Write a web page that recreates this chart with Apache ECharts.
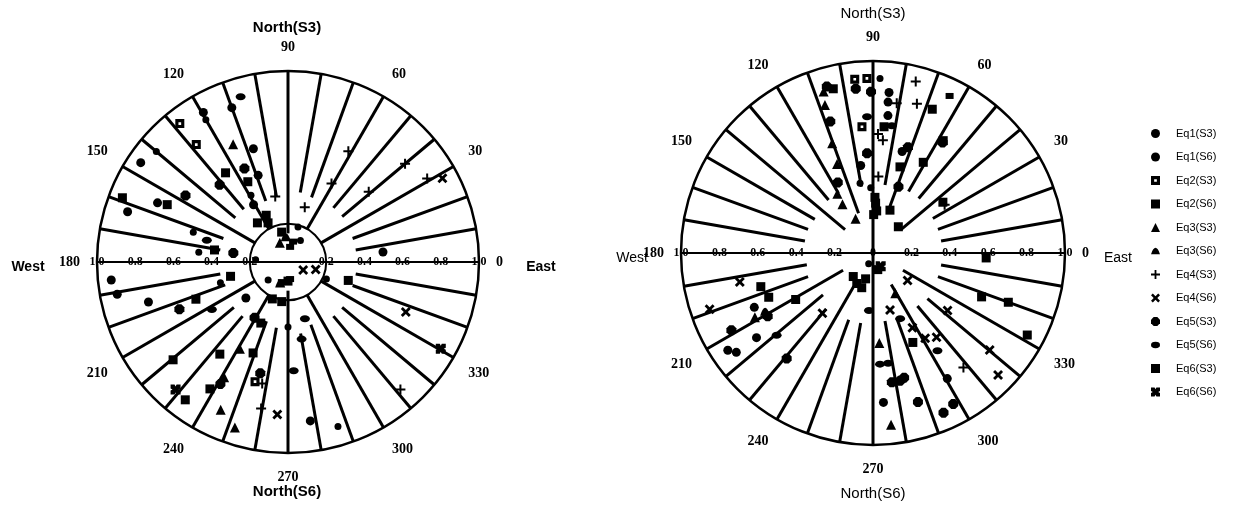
<!DOCTYPE html>
<html>
<head>
<meta charset="utf-8">
<script src="https://cdn.jsdelivr.net/npm/echarts@6/dist/echarts.min.js"></script>
<style>
  html, body { margin: 0; padding: 0; background: #fff; }
  #chart { width: 1234px; height: 506px; }
</style>
</head>
<body>
<div id="chart"></div>
<script>
// Azimuths (degrees) of the radial guide spokes, and the radius each spoke starts from
const spokeAngles = [10, 20, 30, 40, 50, 60, 70, 80, 90, 100, 110, 120, 130, 140, 150, 160, 170,
                     190, 200, 210, 220, 230, 240, 250, 260, 270, 280, 290, 300, 310, 320, 330, 340, 350];
const leftSpokeStart = [0.36, 0.36, 0.2, 0.37, 0.37, 0.2, 0.36, 0.37, 0.15, 0.35, 0.34, 0.2, 0.36, 0.36, 0.2, 0.36, 0.36,
                        0.36, 0.35, 0.2, 0.37, 0.37, 0.2, 0.33, 0.35, 0.15, 0.38, 0.35, 0.2, 0.37, 0.37, 0.2, 0.36, 0.36];
const rightSpokeStart = [0.36, 0.36, 0.36, 0.19, 0.37, 0.37, 0.22, 0.36, 0, 0.35, 0.22, 0.36, 0.36, 0.19, 0.35, 0.36, 0.36,
                         0.35, 0.36, 0.18, 0.34, 0.38, 0.2, 0.37, 0.37, 0, 0.36, 0.36, 0.19, 0.36, 0.37, 0.18, 0.36, 0.36];
const innerRingRadius = 0.2;

// Points as [radius, azimuth in degrees] — left diagram
const leftEq1S3 = [[0.86,110],[0.90,119.5],[0.62,107],[0.48,109],[0.93,146],[0.75,155.6],[0.88,162.6],[0.93,185.8],
                   [0.91,190.7],[0.76,196],[0.84,278],[0.50,6],[0.29,220.5],[0.35,121]];
const leftEq1S6 = [[0.86,120],[0.40,119],[0.90,140],[0.52,162.5],[0.47,173.7],[0.37,197],[0.34,270],[0.90,286.9],
                   [0.22,336],[0.19,74],[0.17,176],[0.14,222],[0.13,60]];
const leftEq2S3 = [[0.92,128],[0.78,128],[0.65,254.6]];
const leftEq2S6 = [[0.57,125],[0.47,116.6],[0.27,115],[0.26,128],[0.70,154.6],[0.93,158.8],[0.39,170.7],[0.31,194],
                   [0.52,202],[0.35,246],[0.51,249],[0.60,233.5],[0.79,220.4],[0.78,238.4],[0.90,233.3],[0.33,343],
                   [0.21,247],[0.21,261],[0.10,270],[0.16,102],[0.23,117]];
const leftEq3S3 = [[0.68,115],[0.52,241],[0.69,241],[0.85,245.5],[0.91,252.2],[0.11,113]];
const leftEq3S6 = [[0.13,95],[0.12,250]];
const leftEq4S3 = [[0.66,61.4],[0.47,61],[0.56,41],[0.80,40],[0.85,31],[0.30,73],[0.35,101],[0.65,258],[0.78,259.6],[0.89,311.4]];
const leftEq4S6 = [[0.92,28.5],[0.67,337],[0.80,266],[0.15,345],[0.09,332]];
const leftEq5S3 = [[0.54,115],[0.54,131.5],[0.64,147],[0.62,203.5],[0.29,170.7],[0.34,239],[0.60,256],[0.73,241]];
const leftEq5S6 = [[0.90,106],[0.44,165],[0.47,212],[0.31,286.6],[0.41,280],[0.57,273]];
const leftEq6S3 = [[0.11,76],[0.08,82],[0.11,253],[0.09,277]];
const leftEq6S6 = [[0.89,228.6],[0.92,330.4]];

// Points as [radius, azimuth in degrees] — right diagram
const rightEq1S3 = [[0.84,84.3],[0.79,84.3],[0.72,83.8],[0.55,74],[0.46,98],[0.76,300.6],[0.78,274],[0.68,204.6],
                    [0.75,216],[0.91,213.8],[0.88,216]];
const rightEq1S6 = [[0.91,87.7],[0.37,100.5],[0.34,92],[0.06,248]];
const rightEq2S3 = [[0.91,96],[0.91,92],[0.66,95]];
const rightEq2S6 = [[0.88,103.6],[0.66,85],[0.47,72.6],[0.54,61],[0.81,67.6],[0.69,58],[0.45,36],[0.24,68.4],[0.19,46],
                    [0.22,85],[0.26,87],[0.29,88],[0.20,89],[0.16,230],[0.18,242],[0.19,252],[0.14,254],[0.51,294],
                    [0.61,338],[0.75,340],[0.91,332],[0.59,357.5],[0.61,196.7],[0.59,203],[0.47,211],[0.09,286]];
const rightEq3S3 = [[0.88,107],[0.81,108],[0.61,110.4],[0.50,112],[0.36,121],[0.30,122],[0.20,117],[0.90,276],
                    [0.47,274],[0.24,299],[0.70,208.5]];
const rightEq3S6 = [[0.64,208.6]];
const rightEq4S3 = [[0.92,76],[0.81,73.6],[0.79,81],[0.62,87.6],[0.59,85],[0.40,86],[0.45,34],[0.76,308.3]];
const rightEq4S6 = [[0.31,286.6],[0.23,321.5],[0.44,297.8],[0.52,301.5],[0.55,307],[0.49,322.4],[0.79,320.3],
                    [0.91,315.7],[0.71,192.3],[0.90,199],[0.41,230]];
const rightEq5S3 = [[0.90,105.5],[0.86,96],[0.84,90.7],[0.72,108],[0.52,93.4],[0.41,116.6],[0.58,71.7],[0.37,69],
                    [0.68,57.8],[0.91,293.8],[0.89,298],[0.81,286.8],[0.68,278.3],[0.68,282],[0.67,284],[0.84,208.6],
                    [0.71,230.7],[0.64,211]];
const rightEq5S6 = [[0.67,81.6],[0.71,92.5],[0.30,266],[0.37,292.5],[0.61,303.4],[0.58,273.6],[0.58,277.8],[0.66,220.5]];
const rightEq6S3 = [[0.91,64]];
const rightEq6S6 = [[0.08,300]];

const seriesNames = ['Eq1(S3)','Eq1(S6)','Eq2(S3)','Eq2(S6)','Eq3(S3)','Eq3(S6)',
                     'Eq4(S3)','Eq4(S6)','Eq5(S3)','Eq5(S6)','Eq6(S3)','Eq6(S6)'];
const leftSets = [leftEq1S3, leftEq1S6, leftEq2S3, leftEq2S6, leftEq3S3, leftEq3S6,
                  leftEq4S3, leftEq4S6, leftEq5S3, leftEq5S6, leftEq6S3, leftEq6S6];
const rightSets = [rightEq1S3, rightEq1S6, rightEq2S3, rightEq2S6, rightEq3S3, rightEq3S6,
                   rightEq4S3, rightEq4S6, rightEq5S3, rightEq5S6, rightEq6S3, rightEq6S6];

// Marker shape per series
const markers = [
  { symbol: 'circle', size: 9 },
  { symbol: 'circle', size: 7 },
  { symbol: 'path://M0,0H10V10H0Z M3.5,3.5V6.5H6.5V3.5Z', size: 9 },
  { symbol: 'rect', size: 9 },
  { symbol: 'triangle', size: 10 },
  { symbol: 'path://M0,10Q5,-4 10,10Z', size: [10, 8] },
  { symbol: 'path://M4,0H6V4H10V6H6V10H4V6H0V4H4Z', size: 10 },
  { symbol: 'path://M0,2L2,0L5,3L8,0L10,2L7,5L10,8L8,10L5,7L2,10L0,8L3,5Z', size: 10 },
  { symbol: 'path://M3,0H7L10,3V7L7,10H3L0,7V3Z', size: 10 },
  { symbol: 'path://M0,5A5,3.5 0 1,1 10,5A5,3.5 0 1,1 0,5Z', size: [10, 7] },
  { symbol: 'rect', size: [8, 6] },
  { symbol: 'path://M0,0H4L5,2L6,0H10V4L8,5L10,6V10H6L5,8L4,10H0V6L2,5L0,4Z', size: 10 }
];

const numFont = { color: '#000', fontFamily: 'Liberation Serif', fontWeight: 'bold' };

function angleAxisFor(polarIndex, show) {
  return {
    polarIndex, type: 'value', min: 0, max: 360, interval: 30,
    startAngle: show ? 0 : 180, clockwise: false, show,
    axisLine: { lineStyle: { color: '#000', width: 2.5 } },
    axisTick: { show: false },
    splitLine: { show: false },
    axisLabel: Object.assign({ fontSize: 14, margin: 17,
      formatter: v => (v === 360 ? '' : String(v)) }, numFont)
  };
}

function radiusAxisFor(polarIndex, showZero) {
  return {
    polarIndex, type: 'value', min: 0, max: 1, interval: 0.2,
    axisLine: { lineStyle: { color: '#000', width: 2 } },
    axisTick: { show: false },
    splitLine: { show: false },
    axisLabel: Object.assign({ fontSize: 12, margin: 0, verticalAlign: 'middle', align: 'center',
      formatter: v => (v === 0 ? (showZero ? '0' : '') : v.toFixed(1)) }, numFont)
  };
}

// Radial guide spokes, drawn from each start radius out to the rim
function spokeSeries(polarIndex, starts) {
  return {
    type: 'custom', coordinateSystem: 'polar', polarIndex, silent: true, z: 1,
    data: spokeAngles.map((a, i) => [starts[i], a]),
    renderItem: (params, api) => {
      const a = api.value(1);
      const p0 = api.coord([api.value(0), a]);
      const p1 = api.coord([1, a]);
      return { type: 'line', shape: { x1: p0[0], y1: p0[1], x2: p1[0], y2: p1[1] },
               style: { stroke: '#000', lineWidth: 3 } };
    }
  };
}

// Inner reference ring
function ringSeries(polarIndex, r) {
  return {
    type: 'custom', coordinateSystem: 'polar', polarIndex, silent: true, z: 1,
    data: [[r, 0]],
    renderItem: (params, api) => {
      const c = api.coord([0, 0]);
      const p = api.coord([api.value(0), 0]);
      return { type: 'circle', shape: { cx: c[0], cy: c[1], r: Math.hypot(p[0] - c[0], p[1] - c[1]) },
               style: { fill: 'none', stroke: '#000', lineWidth: 2 } };
    }
  };
}

function scatterSeries(polarIndex, sets) {
  return sets.map((d, i) => ({
    name: seriesNames[i], type: 'scatter', coordinateSystem: 'polar', polarIndex,
    symbol: markers[i].symbol, symbolSize: markers[i].size,
    itemStyle: { color: '#000', opacity: 1 },
    data: d, z: 3
  }));
}

const sansBold = 'bold 15px "Liberation Sans", Arial, sans-serif';
function label(text, x, y, font) {
  return { type: 'text', x, y, style: { text, font: font || sansBold, fill: '#000', align: 'center', verticalAlign: 'middle' } };
}

const option = {
  backgroundColor: '#fff',
  animation: false,
  polar: [
    { center: [288, 262], radius: 191 },
    { center: [288, 262], radius: 191 },
    { center: [873, 253], radius: 192 },
    { center: [873, 253], radius: 192 }
  ],
  angleAxis: [angleAxisFor(0, true), angleAxisFor(1, false), angleAxisFor(2, true), angleAxisFor(3, false)],
  radiusAxis: [radiusAxisFor(0, false), radiusAxisFor(1, false), radiusAxisFor(2, true), radiusAxisFor(3, false)],
  legend: {
    orient: 'vertical', left: 1146, top: 123,
    itemWidth: 9, itemHeight: 9, itemGap: 12.5,
    selectedMode: false,
    data: seriesNames,
    textStyle: { fontFamily: '"Liberation Sans", Arial, sans-serif', fontSize: 11, color: '#000', padding: [0, 0, 0, 11] }
  },
  graphic: [
    label('North(S3)', 287, 28),
    label('North(S6)', 287, 492),
    label('West', 28, 267, 'bold 14px "Liberation Sans", Arial, sans-serif'),
    label('East', 541, 267, 'bold 14px "Liberation Sans", Arial, sans-serif'),
    label('North(S3)', 873, 14, '15px "Liberation Sans", Arial, sans-serif'),
    label('North(S6)', 873, 494, '15px "Liberation Sans", Arial, sans-serif'),
    label('West', 632, 258, '14px "Liberation Sans", Arial, sans-serif'),
    label('East', 1118, 258, '14px "Liberation Sans", Arial, sans-serif')
  ],
  series: [
    spokeSeries(0, leftSpokeStart),
    ringSeries(0, innerRingRadius),
    spokeSeries(2, rightSpokeStart),
    ...scatterSeries(0, leftSets),
    ...scatterSeries(2, rightSets)
  ]
};

const chart = echarts.init(document.getElementById('chart'), null, { renderer: 'canvas' });
chart.setOption(option);
</script>
</body>
</html>
